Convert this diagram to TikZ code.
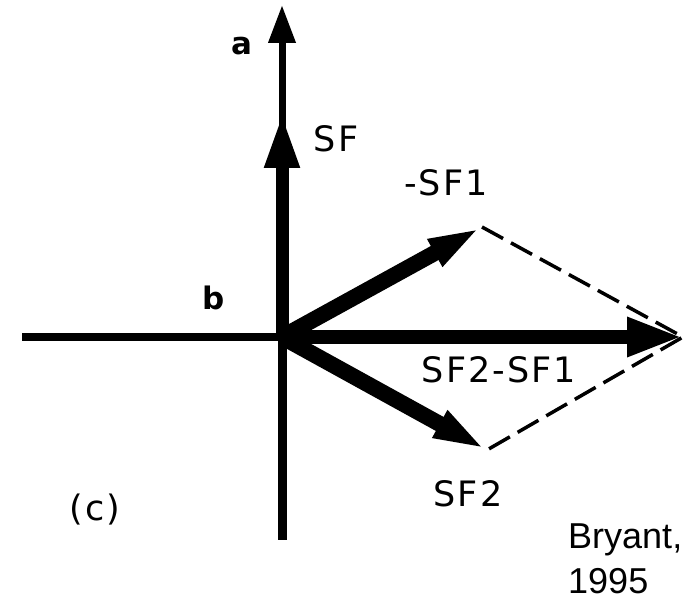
\documentclass[tikz,border=0pt]{standalone}
\usepackage{fontspec}
\setmainfont{DejaVu Sans}
\newfontfamily\plotfont[LetterSpace=6]{DejaVu Sans}
\newfontfamily\citefont{Liberation Sans}
\usetikzlibrary{arrows.meta}
\begin{document}
\begin{tikzpicture}[
        x=1pt, y=-1pt,
        vec/.style={draw, line width=16pt, -{Triangle[length=54pt, width=27pt]}},
        axis/.style={draw, line width=8pt},
        guide/.style={draw, line width=3.5pt, dash pattern=on 24pt off 9pt},
        lbl/.style={font=\plotfont\fontsize{35}{40}\selectfont, inner sep=0pt},
        axlbl/.style={font=\fontsize{31}{36}\selectfont\bfseries, inner sep=0pt},
    ]
    \useasboundingbox (0,0) rectangle (687,609);
    % axes
    \coordinate (O) at (282,337);
    \coordinate (left) at (22,337);
    \coordinate (bot) at (282,540);
    \coordinate (atip) at (282,5);
    \coordinate (sftip) at (282,113);
    \path[axis] (left) -- (O);
    \path[axis, line width=9pt] (O) -- (bot);
    \path[axis, line width=7pt, -{Triangle[length=38pt, width=26pt]}] (O) -- (atip);
    \path[vec, line width=13pt, -{Triangle[length=55pt, width=32pt]}] (O) -- (sftip);
    % vectors
    \coordinate (p1) at (482,227);
    \coordinate (p2) at (487,450);
    \coordinate (res) at (683,337);
    \path[vec] (O) -- (p1);
    \path[vec] (O) -- (p2);
    \path[vec, line width=14pt, -{Triangle[length=56pt, width=36pt]}] (O) -- (res);
    \path[guide] (p1) -- (res) -- (p2);
    % labels
    \node[axlbl] (a) at (242,46) {a};
    \node[axlbl] (b) at (214,298) {b};
    \node[lbl] (sf) at (336,139) {SF};
    \node[lbl] (msf1) at (446,183) {-SF1};
    \node[lbl] (diff) at (499,370) {SF2-SF1};
    \node[lbl] (sf2) at (468,494) {SF2};
    \node[lbl] (c) at (95,510) {(c)};
    \node[font=\citefont\fontsize{36}{45}\selectfont, align=left, anchor=north west, inner sep=0pt] (cite) at (568,524) {Bryant,\\1995};
\end{tikzpicture}
\end{document}
